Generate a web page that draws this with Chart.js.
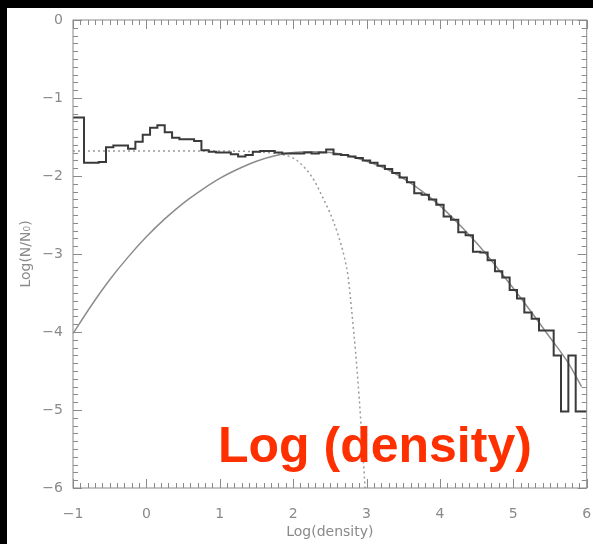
<!DOCTYPE html>
<html>
<head>
<meta charset="utf-8">
<title>Log(N/N0) vs Log(density)</title>
<script src="https://cdn.jsdelivr.net/npm/chart.js@4.4.0/dist/chart.umd.min.js"></script>
<style>
    html, body{
        margin:0;
        padding:0;
        background:#000;
    }
    body{
        width:593px;
        height:544px;
        position:relative;
        overflow:hidden;
    }
    #panel{
        position:absolute;
        left:7px;
        top:8px;
        width:586px;
        height:536px;
        background:#fff;
    }
    #note{
        position:absolute;
        left:218px;
        top:420px;
        font:bold 50px "Liberation Sans", Arial, sans-serif;
        line-height:50px;
        color:#ff3000;
        white-space:nowrap;
    }
</style>
</head>
<body>

<div id="panel">
    <canvas id="densityChart"></canvas>
</div>

<div id="note">Log (density)</div>

<script>

//------------------------------------------------------
// DATA
//------------------------------------------------------

// histogram bins (centre of each 0.1 wide bin in log density)
const binCenters = [
    -1.0, -0.9, -0.8, -0.7, -0.6, -0.5, -0.4, -0.3, -0.2, -0.1,
     0.0,  0.1,  0.2,  0.3,  0.4,  0.5,  0.6,  0.7,  0.8,  0.9,
     1.0,  1.1,  1.2,  1.3,  1.4,  1.5,  1.6,  1.7,  1.8,  1.9,
     2.0,  2.1,  2.2,  2.3,  2.4,  2.5,  2.6,  2.7,  2.8,  2.9,
     3.0,  3.1,  3.2,  3.3,  3.4,  3.5,  3.6,  3.7,  3.8,  3.9,
     4.0,  4.1,  4.2,  4.3,  4.4,  4.5,  4.6,  4.7,  4.8,  4.9,
     5.0,  5.1,  5.2,  5.3,  5.4,  5.5,  5.6,  5.7,  5.8,  5.9,
     6.0
];

// Log(N/N0) in each bin
const histLevels = [
    -1.25, -1.25, -1.83, -1.83, -1.82, -1.63, -1.61, -1.61, -1.65, -1.56,
    -1.47, -1.38, -1.35, -1.44, -1.51, -1.53, -1.53, -1.55, -1.67, -1.69,
    -1.70, -1.70, -1.72, -1.75, -1.73, -1.69, -1.68, -1.68, -1.70, -1.71,
    -1.71, -1.71, -1.70, -1.71, -1.70, -1.66, -1.72, -1.73, -1.75, -1.77,
    -1.80, -1.83, -1.87, -1.91, -1.96, -2.02, -2.08, -2.22, -2.24, -2.30,
    -2.37, -2.52, -2.56, -2.72, -2.76, -2.97, -2.98, -3.08, -3.22, -3.30,
    -3.46, -3.57, -3.75, -3.83, -3.98, -3.98, -4.30, -5.02, -4.30, -5.02,
    -5.02
];

// smooth fit (solid grey)
const fitX = [
    -1.0, -0.75, -0.5, -0.25, 0.0, 0.25, 0.5, 0.75, 1.0, 1.25,
     1.5,  1.75,  2.0,  2.25, 2.5, 2.75, 3.0, 3.25, 3.5, 3.75,
     4.0,  4.25,  4.5,  4.75, 5.0, 5.25, 5.5, 5.75, 5.93
];
const fitY = [
    -4.02, -3.66, -3.33, -3.04, -2.78, -2.55, -2.35, -2.18, -2.03, -1.91,
    -1.81, -1.74, -1.70, -1.69, -1.70, -1.74, -1.81, -1.90, -2.03, -2.19,
    -2.38, -2.61, -2.86, -3.14, -3.44, -3.75, -4.07, -4.40, -4.70
];

// truncated component (dotted grey)
const cutX = [
    -1.0, 0.0, 1.0, 1.5, 1.75, 2.0, 2.1, 2.2, 2.3, 2.4,
     2.5, 2.6, 2.7, 2.75, 2.8, 2.85, 2.9, 2.95, 2.98
];
const cutY = [
    -1.68, -1.68, -1.68, -1.69, -1.71, -1.77, -1.84, -1.94, -2.08, -2.27,
    -2.47, -2.72, -3.05, -3.30, -3.75, -4.25, -4.85, -5.55, -6.00
];

const BIN_WIDTH = 0.1;

//------------------------------------------------------
// STYLE
//------------------------------------------------------

const AXIS_COLOR = "#8a8a8a";
const LABEL_COLOR = "#8a8a8a";
const LABEL_FONT = { family:"DejaVu Sans", size:14 };

function minusSign(value){
    return String(value).replace("-", "\u2212");
}

//------------------------------------------------------
// HISTOGRAM STEP POINTS
//------------------------------------------------------

function buildSteps(){

    const points = binCenters.map(function(c, i){
        return { x:c - BIN_WIDTH / 2, y:histLevels[i] };
    });

    const last = binCenters.length - 1;

    points.push({ x:binCenters[last] + BIN_WIDTH / 2, y:histLevels[last] });

    return points;

}

function pairs(xs, ys){

    return xs.map(function(x, i){
        return { x:x, y:ys[i] };
    });

}

// keep the plot box fixed: no extra room for edge tick labels
function noEdgePadding(scale){
    scale.paddingLeft = 0;
    scale.paddingRight = 0;
    scale.paddingTop = 0;
    scale.paddingBottom = 0;
}

//------------------------------------------------------
// BOX FRAME WITH INWARD TICKS
//------------------------------------------------------

const boxFrame = {

    id:"boxFrame",

    afterDatasetsDraw(chart){

        const ctx = chart.ctx;
        const area = chart.chartArea;
        const xs = chart.scales.x;
        const ys = chart.scales.y;

        ctx.save();
        ctx.strokeStyle = AXIS_COLOR;
        ctx.lineWidth = 1;

        ctx.strokeRect(area.left, area.top, area.right - area.left, area.bottom - area.top);

        ctx.beginPath();

        // ticks along bottom and top
        for(let i = 0; i <= 70; i++){
            const px = Math.round(xs.getPixelForValue(xs.min + i * 0.1)) + 0.5;
            const len = (i % 10 === 0) ? 9 : 5;
            ctx.moveTo(px, area.bottom);
            ctx.lineTo(px, area.bottom - len);
            ctx.moveTo(px, area.top);
            ctx.lineTo(px, area.top + len);
        }

        // ticks along left and right
        for(let i = 0; i <= 60; i++){
            const py = Math.round(ys.getPixelForValue(ys.min + i * 0.1)) + 0.5;
            const len = (i % 10 === 0) ? 9 : 5;
            ctx.moveTo(area.left, py);
            ctx.lineTo(area.left + len, py);
            ctx.moveTo(area.right, py);
            ctx.lineTo(area.right - len, py);
        }

        ctx.stroke();
        ctx.restore();

    }

};

//------------------------------------------------------
// CHART
//------------------------------------------------------

new Chart(document.getElementById("densityChart"), {

    type:"line",

    data:{

        datasets:[

            {
                label:"histogram",
                data:buildSteps(),
                stepped:"before",
                borderColor:"#3a3a3a",
                borderWidth:2,
                pointRadius:0,
                fill:false
            },

            {
                label:"fit",
                data:pairs(fitX, fitY),
                borderColor:"#8c8c8c",
                borderWidth:1.5,
                cubicInterpolationMode:"monotone",
                pointRadius:0,
                fill:false
            },

            {
                label:"truncated",
                data:pairs(cutX, cutY),
                borderColor:"#9a9a9a",
                borderWidth:1.5,
                borderDash:[2, 3],
                cubicInterpolationMode:"monotone",
                pointRadius:0,
                fill:false
            }

        ]

    },

    options:{

        responsive:true,
        maintainAspectRatio:false,
        animation:false,

        layout:{
            padding:{ top:12, right:6.3, left:0, bottom:0 }
        },

        plugins:{
            legend:{ display:false },
            tooltip:{ enabled:false }
        },

        scales:{

            x:{
                type:"linear",
                min:-1,
                max:6,
                grid:{ display:false },
                border:{ display:false },
                ticks:{
                    stepSize:1,
                    color:LABEL_COLOR,
                    font:LABEL_FONT,
                    padding:10,
                    maxRotation:0,
                    callback:minusSign
                },
                title:{
                    display:true,
                    text:"Log(density)",
                    color:LABEL_COLOR,
                    font:LABEL_FONT,
                    padding:{ top:0, bottom:3 }
                },
                afterFit:function(scale){
                    scale.height = 56;
                    noEdgePadding(scale);
                }
            },

            y:{
                type:"linear",
                min:-6,
                max:0,
                grid:{ display:false },
                border:{ display:false },
                ticks:{
                    stepSize:1,
                    color:LABEL_COLOR,
                    font:LABEL_FONT,
                    padding:2,
                    callback:minusSign
                },
                title:{
                    display:true,
                    text:"Log(N/N\u2080)",
                    color:LABEL_COLOR,
                    font:LABEL_FONT,
                    padding:{ top:11, bottom:0 }
                },
                afterFit:function(scale){
                    scale.width = 66;
                    noEdgePadding(scale);
                }
            }

        }

    },

    plugins:[boxFrame]

});

</script>
</body>
</html>
